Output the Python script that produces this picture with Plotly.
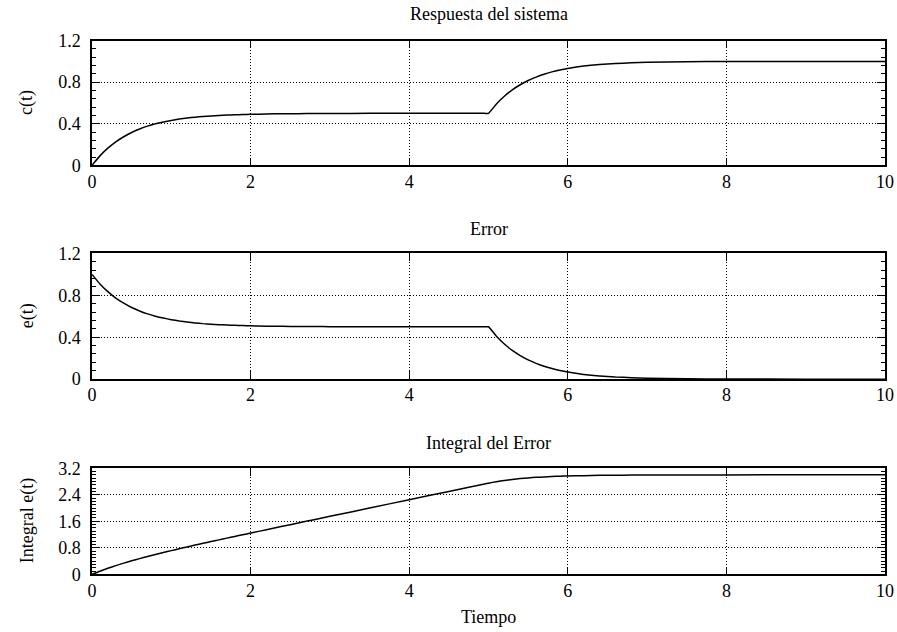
import plotly.graph_objects as go
from plotly.subplots import make_subplots

# Time samples (s)
tiempo = [0, 0.1, 0.2, 0.3, 0.4, 0.5, 0.6, 0.7, 0.8, 0.9, 1.0,
          1.1, 1.2, 1.3, 1.4, 1.5, 1.6, 1.7, 1.8, 1.9, 2.0,
          2.2, 2.4, 2.6, 2.8, 3.0, 3.5, 4.0, 4.5, 4.95, 5.0,
          5.1, 5.2, 5.3, 5.4, 5.5, 5.6, 5.7, 5.8, 5.9, 6.0,
          6.2, 6.4, 6.6, 6.8, 7.0, 7.5, 8.0, 9.0, 10.0]

# System response c(t)
respuesta = [0.0, 0.091, 0.165, 0.226, 0.275, 0.316, 0.349, 0.377, 0.399, 0.417, 0.432,
             0.445, 0.455, 0.463, 0.470, 0.475, 0.480, 0.483, 0.486, 0.489, 0.491,
             0.494, 0.496, 0.497, 0.498, 0.499, 0.500, 0.500, 0.500, 0.500, 0.500,
             0.591, 0.665, 0.726, 0.775, 0.816, 0.849, 0.877, 0.899, 0.917, 0.932,
             0.955, 0.970, 0.980, 0.986, 0.991, 0.997, 0.999, 1.0, 1.0]

# Error e(t)
error = [1.0, 0.909, 0.835, 0.774, 0.725, 0.684, 0.651, 0.623, 0.601, 0.583, 0.568,
         0.555, 0.545, 0.537, 0.530, 0.525, 0.520, 0.517, 0.514, 0.511, 0.509,
         0.506, 0.504, 0.503, 0.502, 0.501, 0.500, 0.500, 0.500, 0.500, 0.500,
         0.409, 0.335, 0.274, 0.225, 0.184, 0.151, 0.123, 0.101, 0.083, 0.068,
         0.045, 0.030, 0.020, 0.014, 0.009, 0.003, 0.001, 0.0, 0.0]

# Integral of error
integral = [0.0, 0.095, 0.182, 0.263, 0.338, 0.408, 0.475, 0.538, 0.600, 0.659, 0.716,
            0.772, 0.827, 0.882, 0.935, 0.988, 1.040, 1.092, 1.143, 1.194, 1.245,
            1.347, 1.448, 1.549, 1.649, 1.749, 2.000, 2.250, 2.500, 2.725, 2.750,
            2.795, 2.832, 2.863, 2.888, 2.908, 2.925, 2.938, 2.950, 2.959, 2.966,
            2.977, 2.985, 2.990, 2.993, 2.995, 2.998, 2.999, 3.0, 3.0]

titulos = ["Respuesta del sistema", "Error", "Integral del Error"]
etiquetas_y = ["c(t)", "e(t)", "Integral e(t)"]
x_ticks = [0, 2, 4, 6, 8, 10]
y_ticks = [[0, 0.4, 0.8, 1.2], [0, 0.4, 0.8, 1.2], [0, 0.8, 1.6, 2.4, 3.2]]
y_tick_text = [["0", "0.4", "0.8", "1.2"], ["0", "0.4", "0.8", "1.2"], ["0", "0.8", "1.6", "2.4", "3.2"]]
y_minor = [0.08, 0.08, 0.1]
y_range = [[0, 1.2], [0, 1.2], [0, 3.2]]

W, H = 897, 632
ML, MR = 92, 12
FONT = "Liberation Serif"
FS = 18

# panel pixel extents (top, bottom)
panels = [(31.6, 160.4), (251.4, 381.2), (473.2, 582.8)]

fig = make_subplots(rows=3, cols=1)
series = [respuesta, error, integral]
for i, s in enumerate(series):
    fig.add_trace(go.Scatter(x=tiempo, y=s, mode="lines",
                             line=dict(color="black", width=1.5, shape="spline", smoothing=0.4),
                             showlegend=False, hoverinfo="skip"), row=i + 1, col=1)

for i in range(3):
    top, bot = panels[i]
    xa = "xaxis" if i == 0 else f"xaxis{i+1}"
    ya = "yaxis" if i == 0 else f"yaxis{i+1}"
    fig.layout[ya].update(
        domain=[1 - bot / H, 1 - top / H],
        range=y_range[i], tickvals=y_ticks[i], ticktext=y_tick_text[i],
        ticks="inside", ticklen=8, tickwidth=1, tickcolor="black",
        minor=dict(dtick=y_minor[i], tick0=0, ticks="inside", ticklen=4,
                   tickcolor="black", tickwidth=1, showgrid=False),
        showline=True, linecolor="black", linewidth=1.5, mirror="allticks",
        showgrid=True, gridcolor="black", griddash="1px,2px", gridwidth=1,
        zeroline=False, ticklabelstandoff=6,
        tickfont=dict(family=FONT, size=FS, color="black"),
    )
    fig.layout[xa].update(
        range=[0, 10], tickvals=x_ticks,
        ticks="inside", ticklen=8, tickwidth=1, tickcolor="black",
        showline=True, linecolor="black", linewidth=1.5, mirror="allticks",
        showgrid=True, gridcolor="black", griddash="1px,2px", gridwidth=1,
        zeroline=False, ticklabelstandoff=-1,
        tickfont=dict(family=FONT, size=FS, color="black"),
    )

annotations = []
title_y = [3.7, 226.1, 447.4]
for i in range(3):
    annotations.append(dict(text=titulos[i], x=0.5, xref="paper",
                            y=1 - title_y[i] / H, yref="paper",
                            xanchor="center", yanchor="middle", showarrow=False,
                            font=dict(family=FONT, size=FS, color="black")))
    top, bot = panels[i]
    annotations.append(dict(text=etiquetas_y[i], textangle=-90,
                            x=(27 - ML) / (W - ML - MR), xref="paper",
                            y=1 - ((top + bot) / 2) / H, yref="paper",
                            xanchor="center", yanchor="middle", showarrow=False,
                            font=dict(family=FONT, size=FS, color="black")))
annotations.append(dict(text="Tiempo", x=0.5, xref="paper", y=1 - 627.3 / H, yref="paper",
                        xanchor="center", yanchor="middle", showarrow=False,
                        font=dict(family=FONT, size=FS, color="black")))

fig.update_layout(width=W, height=H, margin=dict(l=ML, r=MR, t=0, b=0),
                  paper_bgcolor="white", plot_bgcolor="white",
                  annotations=annotations, hovermode=False,
                  font=dict(family=FONT, size=FS, color="black"))

css = ("var s='margin:0;padding:0;overflow:hidden;width:897px;height:632px;';"
       "document.documentElement.style.cssText=s;document.body.style.cssText=s;")
fig.write_html("out.html", config={"displayModeBar": False},
               post_script=css)
